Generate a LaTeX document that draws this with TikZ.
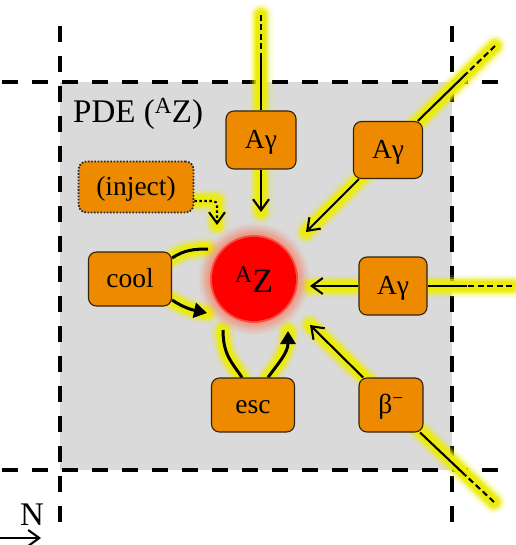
\documentclass[tikz,border=0pt]{standalone}
\usepackage{fontspec}
\setmainfont{Liberation Serif}
\usetikzlibrary{arrows.meta}

\definecolor{boxfill}{RGB}{238,138,0}
\definecolor{boxline}{RGB}{50,35,15}
\definecolor{panel}{RGB}{218,218,218}
\definecolor{glowc}{RGB}{236,236,12}
\definecolor{ringc}{RGB}{240,150,128}
\definecolor{core}{RGB}{255,0,0}

\pgfdeclarelayer{back}
\pgfdeclarelayer{glow}
\pgfdeclarelayer{disk}
\pgfdeclarelayer{wires}
\pgfsetlayers{back,glow,disk,wires,main}

% soft yellow halo behind a connector
\newcommand\glowpath[1]{%
  \draw[glowc,opacity=.15,line width=23pt,line cap=round,line join=round] #1;
  \draw[glowc,opacity=.3,line width=18pt,line cap=round,line join=round] #1;
  \draw[glowc,opacity=.6,line width=14pt,line cap=round,line join=round] #1;
  \draw[glowc,line width=10pt,line cap=round,line join=round] #1;}

\tikzset{
  proc/.style={draw=boxline, line width=1.1pt, fill=boxfill, rounded corners=8pt,
    inner sep=0pt, text height=17pt, text depth=0pt,
    font=\fontsize{27.5}{30}\selectfont},
  dotbox/.style={dash pattern=on 1.6pt off 1.6pt, line width=1.8pt, draw=black!85},
  wire/.style={draw=black, line width=2.1pt},
  thickwire/.style={draw=black, line width=3pt},
  farwire/.style={draw=black, line width=2.1pt, dash pattern=on 6pt off 3.5pt},
  gridline/.style={draw=black, line width=4.2pt, dash pattern=on 16pt off 14pt},
  barb/.style={-{Straight Barb[length=11pt,width=16pt]}},
  head/.style={-{Triangle[length=13pt,width=15pt]}},
}

\begin{document}
\begin{tikzpicture}[x=1pt,y=-1pt]
\useasboundingbox (0,0) rectangle (515,545);

% process boxes
\node[proc, minimum width=70pt, minimum height=58pt] (topA) at (261,140) {Aγ};
\node[proc, minimum width=69pt, minimum height=57pt] (urA) at (388,150) {Aγ};
\node[proc, minimum width=68pt, minimum height=58pt] (rA) at (393,286) {Aγ};
\node[proc, minimum width=64pt, minimum height=54pt] (beta) at (391,405) {β\textsuperscript{−}};
\node[proc, minimum width=83pt, minimum height=54pt] (esc) at (253,405) {esc};
\node[proc, minimum width=83pt, minimum height=54pt] (cool) at (130,279) {cool};
\node[proc, dotbox, minimum width=115pt, minimum height=51pt] (inj) at (136,187) {(inject)};

% nucleus and labels
\node[inner sep=0pt, text height=26pt, text depth=0pt, font=\fontsize{34}{36}\selectfont]
  (AZ) at (254,279) {\textsuperscript{A}Z};
\node[anchor=base west, inner sep=0pt, font=\fontsize{33}{36}\selectfont]
  (pde) at (73,123) {PDE (\textsuperscript{A}Z)};
\node[anchor=base, inner sep=0pt, font=\fontsize{33}{36}\selectfont]
  (nlab) at (32,525) {N};

% free ends of the connectors
\coordinate (topEnd) at (261,15);  \coordinate (topMid) at (261,53);  \coordinate (tTop) at (261,212);
\coordinate (urEnd) at (495,46);   \coordinate (urMid) at (467,73);   \coordinate (tUR) at (306,232);
\coordinate (rEnd) at (512,286);   \coordinate (rMid) at (467,286);   \coordinate (tR) at (310,286);
\coordinate (bEnd) at (494,502);   \coordinate (bMid) at (465,475);   \coordinate (tB) at (310,325);
\coordinate (tInj) at (217,225);
\coordinate (cUp) at (208,249);    \coordinate (cDown) at (207,313);
\coordinate (eL) at (223,330);     \coordinate (eR) at (288,331);
\coordinate (nS) at (0,538);       \coordinate (nE) at (41,538);

% panel and cell boundaries
\begin{pgfonlayer}{back}
  \fill[white] (0,0) rectangle (515,545);
  \fill[panel] (60,82) rectangle (452,470);
  \draw[gridline] (2,82) -- (507,82);
  \draw[gridline] (2,470) -- (507,470);
  \draw[gridline] (60,26) -- (60,523);
  \draw[gridline] (452,26) -- (452,523);
\end{pgfonlayer}

% halos
\begin{pgfonlayer}{glow}
  \glowpath{(topEnd) -- (tTop)}
  \glowpath{(urEnd) -- (tUR)}
  \glowpath{(rEnd) -- (tR)}
  \glowpath{(bEnd) -- (tB)}
  \glowpath{([yshift=-14pt]inj.east) -| (tInj)}
  \glowpath{([yshift=21pt]cool.east) .. controls +(12,-8) and +(-14,0) .. (cUp)}
  \glowpath{([yshift=-21pt]cool.east) .. controls +(12,8) and +(-14,-3) .. (cDown)}
  \glowpath{(eL) .. controls +(0,25) and +(-10,-15) .. ([xshift=-11pt]esc.north)}
  \glowpath{([xshift=15pt]esc.north) .. controls +(10,-14) and +(0,22) .. (eR)}
\end{pgfonlayer}

% glowing nucleus disk
\begin{pgfonlayer}{disk}
  \foreach \r/\o in {56/.10,54/.14,52/.2,50/.3,48/.4,46/.55}
    \fill[ringc,opacity=\o] (AZ.center) circle[radius=\r pt];
  \fill[core,opacity=.5] (AZ.center) circle[radius=44pt];
  \fill[core] (AZ.center) circle[radius=42pt];
\end{pgfonlayer}

% connectors
\begin{pgfonlayer}{wires}
  \draw[farwire] (topEnd) -- (topMid);
  \draw[wire] (topMid) -- (topA);
  \draw[wire, barb] (topA) -- (tTop);

  \draw[farwire] (urEnd) -- (urMid);
  \draw[wire] (urMid) -- (urA);
  \draw[wire, barb] (urA) -- (tUR);

  \draw[farwire] (rEnd) -- (rMid);
  \draw[wire] (rMid) -- (rA);
  \draw[wire, barb] (rA) -- (tR);

  \draw[farwire] (bEnd) -- (bMid);
  \draw[wire] (bMid) -- (beta);
  \draw[wire, barb] (beta) -- (tB);

  \draw[wire, barb, dash pattern=on 2.5pt off 2.5pt, rounded corners=4pt]
    ([yshift=-14pt]inj.east) -| (tInj);

  \draw[thickwire] ([yshift=21pt]cool.east) .. controls +(12,-8) and +(-14,0) .. (cUp);
  \draw[thickwire, head] ([yshift=-21pt]cool.east) .. controls +(12,8) and +(-14,-3) .. (cDown);
  \draw[thickwire] (eL) .. controls +(0,25) and +(-10,-15) .. ([xshift=-11pt]esc.north);
  \draw[thickwire, head] ([xshift=15pt]esc.north) .. controls +(10,-14) and +(0,22) .. (eR);

  \draw[wire, barb] (nS) -- (nE);
\end{pgfonlayer}
\end{tikzpicture}
\end{document}
